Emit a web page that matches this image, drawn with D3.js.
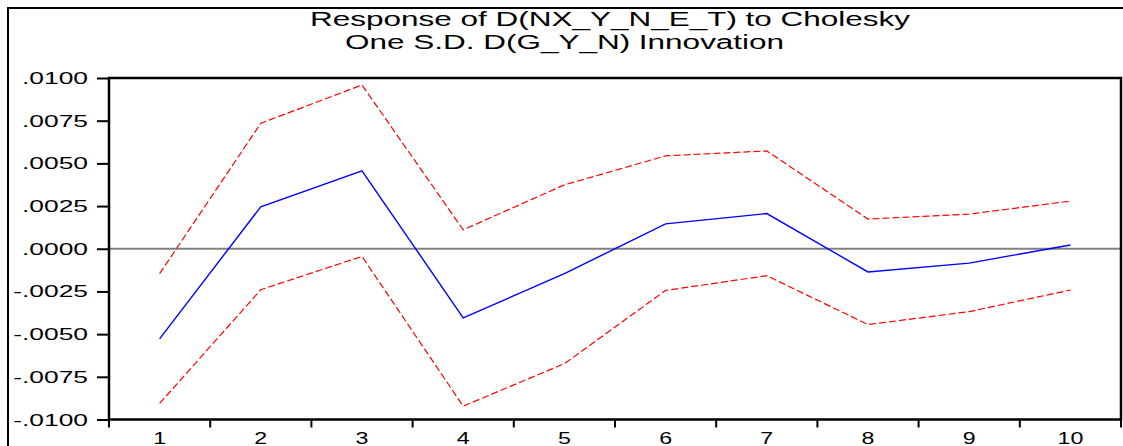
<!DOCTYPE html>
<html>
<head>
<meta charset="utf-8">
<script src="https://cdn.jsdelivr.net/npm/d3@7"></script>
<style>
	body { margin: 0; background: #fff; }
	svg { display: block; }
	text { font-family: Arial, "Liberation Sans", sans-serif; fill: #000; }
</style>
</head>
<body>
<svg id="chart" width="1123" height="446"></svg>
<script>
// impulse response periods
var periods = [1, 2, 3, 4, 5, 6, 7, 8, 9, 10];
// response (blue) and +/- 2 S.E. bands (red dashed)
var response = [-0.00528, 0.00246, 0.00456, -0.00405, -0.00146, 0.00146, 0.00206, -0.00136, -0.00084, 0.00022];
var upperBand = [-0.00146, 0.00735, 0.00959, 0.00111, 0.00374, 0.00544, 0.00573, 0.00174, 0.00203, 0.00279];
var lowerBand = [-0.00906, -0.00240, -0.00045, -0.00922, -0.00673, -0.00244, -0.00158, -0.00444, -0.00368, -0.00242];
var yTicks = [0.01, 0.0075, 0.005, 0.0025, 0, -0.0025, -0.005, -0.0075, -0.01];
var titleLines = ["Response of D(NX_Y_N_E_T) to Cholesky", "One S.D. D(G_Y_N) Innovation"];

var svg = d3.select("#chart");
var plot = {left: 109, right: 1121, top: 78, bottom: 419.5};

var xBand = d3.scaleBand().domain(periods).range([plot.left, plot.right]);
var x = function(p){ return xBand(p) + xBand.bandwidth() / 2; };
var y = d3.scaleLinear().domain([-0.01, 0.01]).range([plot.bottom, plot.top]);

//outer frame (only top and left visible)
svg.append("path")
	.attr("d", "M8,446 L8,8 L1123,8")
	.attr("fill", "none")
	.attr("stroke", "#000")
	.attr("stroke-width", 2);

//title, the original is stretched horizontally
var titleX = [310, 345], titleY = [26, 49];
titleLines.forEach(function(t, i){
	svg.append("g")
		.attr("transform", "translate(" + titleX[i] + "," + titleY[i] + ") scale(1.5,1)")
		.append("text")
		.attr("font-size", 21)
		.text(t);
});

//zero line
svg.append("line")
	.attr("x1", plot.left).attr("x2", plot.right)
	.attr("y1", y(0)).attr("y2", y(0))
	.attr("stroke", "#808080")
	.attr("stroke-width", 2);

//series
var line = d3.line()
	.x(function(d, i){ return x(periods[i]); })
	.y(function(d){ return y(d); });

[upperBand, lowerBand].forEach(function(s){
	svg.append("path")
		.datum(s)
		.attr("d", line)
		.attr("fill", "none")
		.attr("stroke", "#ff0000")
		.attr("stroke-width", 1.2)
		.attr("stroke-dasharray", "7,3");
});

svg.append("path")
	.datum(response)
	.attr("d", line)
	.attr("fill", "none")
	.attr("stroke", "#0000ff")
	.attr("stroke-width", 1.4);

//plot frame
svg.append("rect")
	.attr("x", plot.left).attr("y", plot.top)
	.attr("width", plot.right - plot.left)
	.attr("height", plot.bottom - plot.top)
	.attr("fill", "none")
	.attr("stroke", "#000")
	.attr("stroke-width", 2.5);

//y axis
var yAxis = d3.axisLeft(y).tickValues(yTicks).tickSize(12).tickFormat("");
svg.append("g")
	.attr("transform", "translate(" + plot.left + ",0)")
	.call(yAxis)
	.call(function(g){
		g.select(".domain").remove();
		g.selectAll(".tick line").attr("stroke", "#000").attr("stroke-width", 2);
	});

function fmtY(v){
	var s = d3.format(".4f")(Math.abs(v)).replace(/^0/, "");
	return (v < 0 ? "-" : "") + s;
}

yTicks.forEach(function(v){
	svg.append("g")
		.attr("transform", "translate(88," + (y(v) + 6) + ") scale(1.65,1)")
		.append("text")
		.attr("font-size", 16)
		.attr("text-anchor", "end")
		.text(fmtY(v));
});

//x axis, ticks at band edges
var edges = periods.map(function(p){ return xBand(p); });
edges.push(plot.right);
svg.selectAll(".xtick")
	.data(edges)
	.enter().append("line")
	.attr("class", "xtick")
	.attr("x1", function(d){ return d; }).attr("x2", function(d){ return d; })
	.attr("y1", plot.bottom).attr("y2", plot.bottom + 8)
	.attr("stroke", "#000")
	.attr("stroke-width", 2);

periods.forEach(function(p){
	svg.append("g")
		.attr("transform", "translate(" + x(p) + ",444) scale(1.45,1)")
		.append("text")
		.attr("font-size", 16)
		.attr("text-anchor", "middle")
		.text(p);
});
</script>
</body>
</html>
